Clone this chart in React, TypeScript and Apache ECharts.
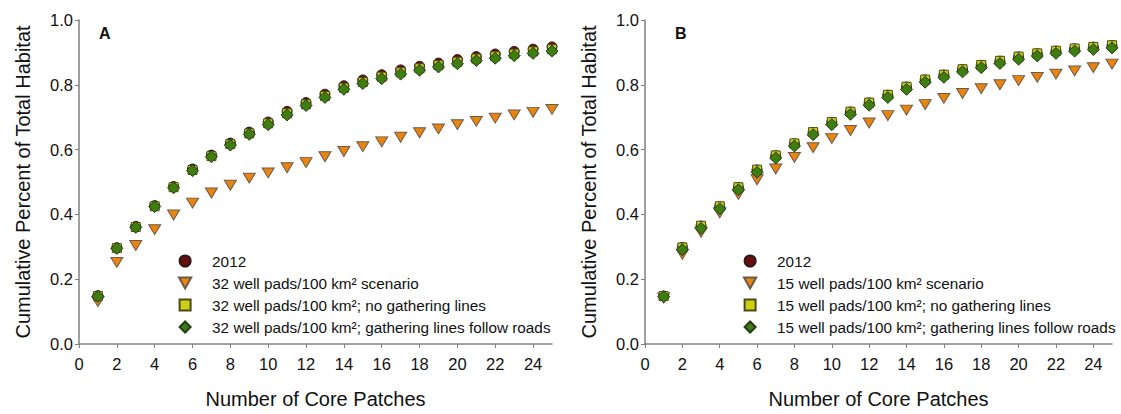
import React, { useEffect, useRef } from "react";
import * as echarts from "echarts";

const patches = [1, 2, 3, 4, 5, 6, 7, 8, 9, 10, 11, 12, 13, 14, 15, 16, 17, 18, 19, 20, 21, 22, 23, 24, 25];
const xTicks = [0, 2, 4, 6, 8, 10, 12, 14, 16, 18, 20, 22, 24];

// Panel A (32 well pads/100 km²)
const a2012 = [0.149, 0.297, 0.363, 0.427, 0.486, 0.54, 0.583, 0.62, 0.654, 0.685, 0.718, 0.745, 0.771, 0.797, 0.815, 0.831, 0.846, 0.857, 0.867, 0.878, 0.887, 0.895, 0.903, 0.91, 0.917];
const aScenario = [0.131, 0.252, 0.304, 0.353, 0.398, 0.435, 0.466, 0.49, 0.512, 0.528, 0.544, 0.56, 0.578, 0.594, 0.609, 0.624, 0.638, 0.652, 0.664, 0.677, 0.687, 0.697, 0.707, 0.715, 0.724];
const aNoLines = [0.148, 0.296, 0.361, 0.425, 0.484, 0.537, 0.58, 0.617, 0.65, 0.681, 0.712, 0.74, 0.766, 0.791, 0.809, 0.825, 0.839, 0.851, 0.861, 0.871, 0.881, 0.888, 0.896, 0.903, 0.91];
const aRoads = [0.147, 0.295, 0.36, 0.424, 0.482, 0.535, 0.578, 0.614, 0.647, 0.677, 0.707, 0.736, 0.761, 0.786, 0.804, 0.819, 0.833, 0.845, 0.855, 0.865, 0.875, 0.882, 0.89, 0.897, 0.904];

// Panel B (15 well pads/100 km²)
const b2012 = [0.148, 0.298, 0.364, 0.424, 0.483, 0.537, 0.581, 0.618, 0.653, 0.684, 0.716, 0.744, 0.768, 0.793, 0.815, 0.83, 0.847, 0.86, 0.873, 0.886, 0.896, 0.904, 0.911, 0.916, 0.921];
const bScenario = [0.142, 0.277, 0.345, 0.405, 0.462, 0.507, 0.54, 0.576, 0.606, 0.634, 0.659, 0.682, 0.705, 0.722, 0.739, 0.758, 0.773, 0.788, 0.8, 0.813, 0.823, 0.833, 0.843, 0.853, 0.864];
const bNoLines = [0.148, 0.298, 0.365, 0.425, 0.484, 0.538, 0.582, 0.619, 0.654, 0.685, 0.717, 0.745, 0.769, 0.794, 0.816, 0.831, 0.848, 0.861, 0.874, 0.887, 0.897, 0.905, 0.912, 0.917, 0.922];
const bRoads = [0.146, 0.291, 0.357, 0.417, 0.476, 0.53, 0.574, 0.611, 0.646, 0.677, 0.709, 0.737, 0.761, 0.786, 0.808, 0.823, 0.84, 0.853, 0.866, 0.879, 0.889, 0.897, 0.904, 0.909, 0.914];

const namesA = [
  "2012",
  "32 well pads/100 km² scenario",
  "32 well pads/100 km²; no gathering lines",
  "32 well pads/100 km²; gathering lines follow roads",
];
const namesB = [
  "2012",
  "15 well pads/100 km² scenario",
  "15 well pads/100 km²; no gathering lines",
  "15 well pads/100 km²; gathering lines follow roads",
];

const FONT = "'Liberation Sans', Arial, sans-serif";
const TRI_DOWN = "path://M0,0L20,0L10,18Z";
const SQUARE = "path://M0,0L10,0L10,10L0,10Z";
const DIAMOND = "path://M5,0L10,5L5,10L0,5Z";

const styles = [
  { symbol: "circle", size: 10, color: "#6a0f0c", border: "#2a1a18" },
  { symbol: TRI_DOWN, size: [12, 11], color: "#e9840f", border: "#6b5a4a" },
  { symbol: SQUARE, size: 9, color: "#cfcf12", border: "#4a4a20" },
  { symbol: DIAMOND, size: 12, color: "#3e7d0f", border: "#263a18" },
];

function makeSeries(names: string[], datasets: number[][], axisIdx: number) {
  return datasets.map((vals, i) => ({
    type: "scatter",
    name: names[i],
    xAxisIndex: axisIdx,
    yAxisIndex: axisIdx,
    symbol: styles[i].symbol,
    symbolSize: styles[i].size,
    symbolKeepAspect: true,
    itemStyle: { color: styles[i].color, borderColor: styles[i].border, borderWidth: 1, opacity: 1 },
    data: vals.map((v, j) => [patches[j], v]),
    z: 2 + i,
  }));
}

function xAxis(gridIndex: number) {
  return {
    type: "value",
    gridIndex,
    min: 0,
    max: 25,
    interval: 2,
    name: "Number of Core Patches",
    nameLocation: "middle",
    nameGap: 45,
    nameTextStyle: { fontFamily: FONT, fontSize: 20, color: "#111" },
    axisLine: { show: true, lineStyle: { color: "#808080", width: 1.5 } },
    axisTick: { show: true, length: 4, customValues: xTicks, lineStyle: { color: "#808080" } },
    axisLabel: { customValues: xTicks, margin: 11, fontFamily: FONT, fontSize: 16.5, color: "#111" },
    splitLine: { show: false },
  };
}

function yAxis(gridIndex: number) {
  return {
    type: "value",
    gridIndex,
    min: 0,
    max: 1,
    interval: 0.2,
    name: "Cumulative Percent of Total Habitat",
    nameLocation: "middle",
    nameGap: 46,
    nameTextStyle: { fontFamily: FONT, fontSize: 20, color: "#111" },
    axisLine: { show: true, lineStyle: { color: "#808080", width: 1.5 } },
    axisTick: { show: true, length: 4, lineStyle: { color: "#808080" } },
    axisLabel: { margin: 6, fontFamily: FONT, fontSize: 16.5, color: "#111", formatter: (v: number) => v.toFixed(1) },
    splitLine: { show: false },
  };
}

function legend(names: string[], left: number) {
  return {
    orient: "vertical",
    left,
    top: 253,
    padding: 0,
    itemWidth: 44,
    itemHeight: 11,
    itemGap: 6,
    symbolKeepAspect: true,
    selectedMode: false,
    data: names,
    textStyle: { fontFamily: FONT, fontSize: 15.3, color: "#111", lineHeight: 16 },
  };
}

export default function App() {
  const ref = useRef<HTMLDivElement>(null);
  useEffect(() => {
    if (!ref.current) return;
    const chart = echarts.init(ref.current, null, { renderer: "svg" });
    chart.setOption({
      animation: false,
      backgroundColor: "#ffffff",
      grid: [
        { left: 79, top: 20, width: 473, height: 330 },
        { left: 645, top: 20, width: 467, height: 330 },
      ],
      xAxis: [xAxis(0), xAxis(1)],
      yAxis: [yAxis(0), yAxis(1)],
      legend: [legend(namesA, 178), legend(namesB, 743)],
      graphic: [
        { type: "text", left: 99, top: 25, style: { text: "A", font: `bold 16px ${FONT}`, fill: "#111" } },
        { type: "text", left: 675, top: 25, style: { text: "B", font: `bold 16px ${FONT}`, fill: "#111" } },
      ],
      series: [
        ...makeSeries(namesA, [a2012, aScenario, aNoLines, aRoads], 0),
        ...makeSeries(namesB, [b2012, bScenario, bNoLines, bRoads], 1),
      ],
    });
    return () => chart.dispose();
  }, []);
  return <div ref={ref} style={{ position: "fixed", left: 0, top: 0, width: 1121, height: 414 }} />;
}
